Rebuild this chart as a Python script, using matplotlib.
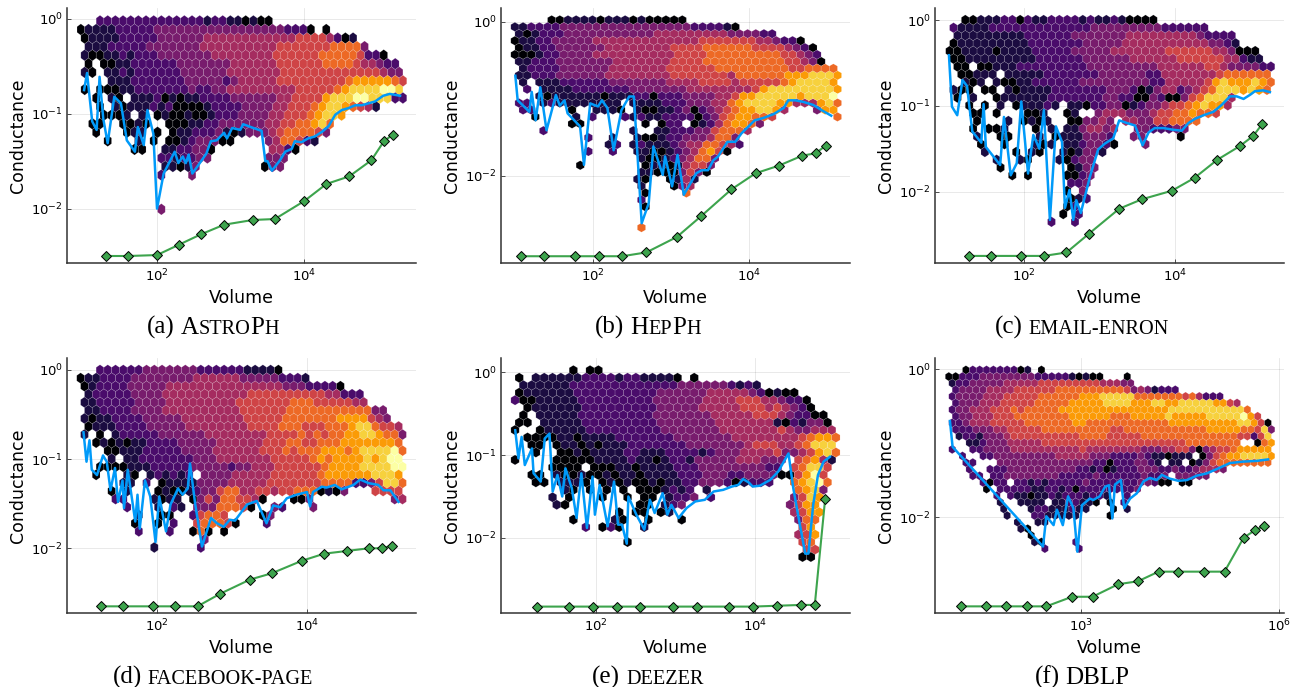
import matplotlib
matplotlib.use("Agg")
import matplotlib.pyplot as plt
import numpy as np

# hex cells, one string per hex row (top row first)
# digit = colour level 0-9, space = empty cell, "|" is only a reading aid
astro_hex = [
    "   |22222222222222122110100",
    "0111122222|33333333333333333|222|0 0",
    " |01111|22222|333333|444444444444|55554|201",
    " |1112|2222|3333333|4444444444|555555|56666|3",
    " |1001121|22233|33333|44444444|555555|66666|5220",
    " 0 0011|222222|33333|33444444|555555|6666|544322",
    " 10 11212|222223|33333|4444444|5555555|55555|5433",
    "    |111222|222233|333|23|44444|55555555|56|77777|65",
    " 0 000|1|1222|22223|2233|4444444|44555|55|67|8888998",
    "  0 10 |1112|0101|122|2233|3333|44555|578|8899888|22",
    "   0 10|111212|0000|12|222|33334|455|567887654|1",
    "   0001 1 |0100100|12|2233|3344|555|67887",
    "  0|0  00|1|0  |000|11|22|33333344|55|66|7|8|6",
    "  0   |011 0 |011|222|3|101|333|4|5|6666|5|3",
    "    0   1 0 |0012333|00|    |3|4|66|5|2|1",
    "       00  |1122330|       |4420",
    "           |2212233|       |333",
    "           |11013|        |033",
    "           2   3",
    "",
    "",
    "",
    "           3",
]
astro_blue_x = [1.01, 1.05, 1.12, 1.18, 1.22, 1.27, 1.33, 1.42, 1.51, 1.59, 1.70, 1.74, 1.82, 1.87, 1.95, 2.00, 2.09, 2.24, 2.29, 2.35, 2.39, 2.43, 2.48, 2.58, 2.67, 2.73, 2.81, 2.91, 2.95, 3.02, 3.13, 3.17, 3.31, 3.42, 3.47, 3.50, 3.56, 3.67, 3.74, 3.83, 3.87, 3.96, 4.05, 4.14, 4.24, 4.33, 4.42, 4.51, 4.60, 4.69, 4.78, 4.87, 4.96, 5.07, 5.16, 5.30]
astro_blue_y = [-0.75, -0.57, -1.08, -1.17, -0.61, -1.05, -1.31, -0.82, -0.89, -1.28, -1.40, -1.14, -1.33, -0.96, -1.21, -2.00, -1.63, -1.40, -1.52, -1.45, -1.52, -1.43, -1.63, -1.52, -1.42, -1.29, -1.28, -1.20, -1.26, -1.15, -1.17, -1.11, -1.15, -1.18, -1.50, -1.50, -1.60, -1.49, -1.40, -1.37, -1.29, -1.30, -1.26, -1.24, -1.19, -1.13, -1.01, -0.96, -0.94, -0.91, -0.91, -0.89, -0.87, -0.81, -0.79, -0.81]
astro_green_x = [1.31, 1.61, 2.00, 2.30, 2.60, 2.91, 3.30, 3.60, 4.00, 4.30, 4.61, 4.91, 5.08, 5.20]
astro_green_y = [-2.50, -2.50, -2.49, -2.38, -2.27, -2.17, -2.12, -2.11, -1.92, -1.74, -1.66, -1.49, -1.29, -1.22]

hepph_hex = [
    "     |00111101110100000",
    "112222|33333333333333|3322|2210",
    " |10122233333333333|4444444443|33322",
    "01122|33333|44444444|44444555|555544|3220",
    " |01122|333333|44444444|5555|666666|5555|4320",
    "00012|23333|44444444|445555|666666|66655|432",
    " |11222|3333333|444444455|55666666|666655|430",
    " |12222|33333344|44444555|555666|666666|556666",
    " |11222|33333344|444444|5555555|466666|67|778887",
    " 1 |111222|222333|333344|44555|54|55555|6788887",
    "  2 |111122|2222233|33333|44444|444|5|7888888887",
    "   1|0|111111|0|111|22|0|22233|334|4|5|77|88888|7|888|9",
    " 22 |12|11111111| |1111|222|333|44|6|7|8888|77|444|7|8|6",
    " 22    0  |1110| |100112|302|3|4|5|6|77|88|7|4|   |3|77",
    "   0    1 2   |212112222|0|2|3|5|6|77|66|5|       |6",
    "       00       |0 022 |012|4|6|77|6|3",
    "    2          |1  |1122233|5|666|4",
    "         2  1  |100122|333|4|66|3",
    "            12 |12111|2|3|44|66|5|4|2",
    "         2  2  |110012346750",
    "                |1001234663",
    "        0       |011014553",
    "                |110003530",
    "               10  |0141",
    "                1   |034",
    "                0    6",
    "                2",
    "                0",
    "",
    "",
    "                6",
]
hepph_blue_x = [1.00, 1.03, 1.18, 1.21, 1.26, 1.32, 1.40, 1.52, 1.57, 1.63, 1.67, 1.83, 1.88, 1.96, 2.06, 2.11, 2.18, 2.26, 2.36, 2.46, 2.52, 2.62, 2.71, 2.77, 2.89, 2.92, 3.01, 3.08, 3.16, 3.32, 3.39, 3.47, 3.54, 3.60, 3.72, 3.82, 3.90, 3.99, 4.07, 4.18, 4.31, 4.44, 4.50, 4.59, 4.69, 4.82, 4.93, 5.05]
hepph_blue_y = [-0.70, -1.02, -1.17, -0.91, -1.28, -0.85, -1.41, -0.95, -1.09, -1.02, -1.19, -1.36, -1.86, -1.06, -1.10, -1.02, -1.12, -1.67, -1.15, -0.97, -0.97, -2.62, -2.36, -1.62, -1.99, -1.75, -2.14, -1.73, -2.25, -1.97, -1.93, -1.93, -1.80, -1.75, -1.56, -1.56, -1.45, -1.36, -1.28, -1.25, -1.20, -1.12, -1.02, -1.02, -1.04, -1.08, -1.15, -1.22]
hepph_green_x = [1.07, 1.37, 1.76, 2.07, 2.37, 2.68, 3.07, 3.38, 3.77, 4.08, 4.38, 4.68, 4.85, 4.98]
hepph_green_y = [-3.05, -3.05, -3.05, -3.05, -3.05, -3.00, -2.80, -2.53, -2.18, -1.97, -1.87, -1.74, -1.71, -1.61]

enron_hex = [
    "   |0011122021122221211210000",
    " |21111|2222222|222222|33333|33332|22222",
    "  |11|111111|12222|22333|33334|444444|44|3|2222",
    " |011111111|122222|22333|33444|44444|444|332|1",
    " |00111101|11122|22233|33344|444445|5555|544|3|000",
    " |001111111|11222|22233|33334|44444|55555|544|211",
    "  00 00|11122|22222|22333|33333|3444|44455|433|3322",
    "  00111 1|111122|22222|33333|322|444|4444|5|666666",
    "   101 1001|12222|22333|33333|322|44444|5|7|8|777|8|7|6",
    " 100 00 101|11122|22222|3332|0|1|3|44|2|3|4|5|6|888|7|8|7|6",
    "  0 1  0111|11122|22222|3322|00|3|2|00|3|5|6|888|4",
    "   0 0 1 0|11121| |11|0|22|33|0|1|2|33|4|55|6|7|8|77|4",
    "    00 0   |001|  |01|  |3|444|333|4|55|66|7|66|5",
    "    0   1 |0101|  |00|33|4|3| |44|33|55|6666",
    "    0 001   |0 1 |11|3|44|3|4|  |33|222|33",
    "    1  00   |1 |0111|333|2|  |33|    |0",
    "     0  0   |101 |11|2|33|2|0|   |3",
    "     1   0 |10|  |101|33|1",
    "       1  |10|   |10233",
    "       0        |0133",
    "         0 0    |0023",
    "                |223",
    "                0 3",
    "                012",
    "                02",
    "               0 2",
    "              2  2",
]
enron_blue_x = [1.00, 1.04, 1.11, 1.18, 1.24, 1.31, 1.43, 1.46, 1.49, 1.68, 1.73, 1.82, 1.90, 1.96, 2.05, 2.12, 2.20, 2.26, 2.34, 2.42, 2.50, 2.54, 2.60, 2.65, 2.69, 2.75, 2.87, 2.98, 3.07, 3.18, 3.26, 3.36, 3.47, 3.57, 3.65, 3.73, 3.85, 3.98, 4.09, 4.18, 4.27, 4.38, 4.51, 4.62, 4.73, 4.82, 4.91, 5.00, 5.06, 5.17, 5.26]
enron_blue_y = [-0.41, -1.01, -1.11, -0.70, -0.77, -1.30, -1.43, -0.98, -1.48, -1.69, -1.13, -1.81, -1.67, -0.95, -1.79, -1.34, -1.50, -1.05, -2.33, -1.24, -1.42, -2.19, -1.98, -2.33, -2.10, -2.25, -1.83, -1.51, -1.44, -1.38, -1.17, -1.20, -1.23, -1.46, -1.31, -1.26, -1.26, -1.28, -1.29, -1.20, -1.15, -1.11, -1.07, -0.99, -0.89, -0.89, -0.92, -0.87, -0.83, -0.82, -0.84]
enron_green_x = [1.26, 1.56, 1.96, 2.26, 2.56, 2.86, 3.26, 3.56, 3.96, 4.26, 4.56, 4.86, 5.04, 5.16]
enron_green_y = [-2.75, -2.75, -2.75, -2.75, -2.71, -2.49, -2.20, -2.09, -1.99, -1.84, -1.63, -1.47, -1.35, -1.21]

facebook_hex = [
    "   |222222|3333333|222222|1111|0",
    "0112|22233|33333344444|433333|2221",
    " |01222|233333|444444444|444444|333|2222|0",
    " |12222|23333|4444444444|455555|55555|44|222",
    " |112222|23333|444444444|5555555|666|55555|44",
    " |11222|23333|444444444|455555|566666|6666|66|33",
    " |10112|222333|33444444|445555|566666|66777|7|5|4|3",
    " |01112|22233|33344444|4445555|666555|6667|88|6554",
    " 1 0 |12222|233333|34444444|45555|656|5667|7887|6|6|3",
    "  0|1|0|1|0|1122|22333|33444|44455|56655|66677|7777|7|6",
    "    |00|11|122|22233|33444|4445|55656|66777|67888|8|9|6",
    "    1 1|1222|2222|33344|44444|5555|56767|77787|899",
    "   |00001|11222|22333|33233|44455|55556|77778|88899",
    "  0   1|0 12|1212| |3|3334|4444|5555|556|7777|7788|87",
    "      11 2 |01111|3|3334|44445|55555|5666|6|223|5|88|6",
    "    0 1   |0|1001|2|33|5|66|44|55|4|55|66|6|010|3|   |5555",
    "     22   |1|01|1| |0|3|5|3|66|55|4|0|   |00|3|          |34",
    "      2   |1 2|1 |333|666|5|0|  |32|   |3",
    "        1  |00|  |25665|    |03",
    "       0  0 2  |566650|   |2",
    "        2   2  |060 0",
    "                3",
    "          1     2",
]
facebook_blue_x = [1.02, 1.06, 1.10, 1.13, 1.20, 1.28, 1.33, 1.38, 1.44, 1.48, 1.54, 1.56, 1.61, 1.71, 1.74, 1.77, 1.84, 1.91, 1.98, 2.03, 2.12, 2.18, 2.28, 2.34, 2.41, 2.44, 2.51, 2.60, 2.72, 2.80, 2.89, 2.97, 3.04, 3.20, 3.33, 3.46, 3.55, 3.64, 3.73, 3.86, 4.00, 4.04, 4.08, 4.20, 4.26, 4.37, 4.46, 4.62, 4.71, 4.82, 4.95, 5.02, 5.11, 5.22]
facebook_blue_y = [-0.70, -1.03, -0.79, -1.12, -1.18, -0.96, -1.03, -1.35, -1.10, -1.48, -1.24, -1.55, -1.12, -1.70, -1.40, -1.78, -1.24, -1.42, -1.93, -1.42, -1.81, -1.51, -1.33, -1.40, -1.33, -1.05, -1.51, -1.98, -1.66, -1.72, -1.76, -1.68, -1.69, -1.51, -1.47, -1.72, -1.52, -1.54, -1.44, -1.40, -1.37, -1.53, -1.37, -1.31, -1.32, -1.29, -1.34, -1.29, -1.23, -1.27, -1.29, -1.35, -1.35, -1.48]
facebook_green_x = [1.25, 1.55, 1.95, 2.24, 2.54, 2.84, 3.24, 3.53, 3.93, 4.23, 4.53, 4.82, 5.00, 5.13]
facebook_green_y = [-2.65, -2.65, -2.65, -2.65, -2.65, -2.51, -2.35, -2.28, -2.14, -2.06, -2.03, -2.00, -2.00, -1.97]

deezer_hex = [
    "        0 00",
    " 0 |111111222212211110| |0",
    "  |11111|12222|22222|22223|33333|2121",
    " |01111|11222|22222|22333|33344|444|32|0100",
    " |20011|11122|22222|22333|33344|44555|443|22|0",
    "  |01111|11222|22222|23333|34444|45554|543|2|0",
    "  0 |1|11112|22222|22233|33333|44444|5554|322|00",
    " 00 |11111|22222|22223|33333|34444|444|1|0|2|1|33|0",
    " 0  0|11111|22222|22223|33333|34444|4445|4|33|444",
    "  000|01101|11122|22222|33333|33444|4444|4|5|6|77|6",
    "   00 |01|1|0|1|0|11122|22222|33333|33455|54|4|5|6|88|8",
    "   0  |00|1|0|11|1122|111|2|22212|33344|445|33|4|5|7|8|6",
    " 0    |0|00|0|0|1|1112|11|0|1|22|1|33|33344|433|3| |5|6|7|4|1",
    "     |0000| |000|11|0|1111|222|333|33333|22| |5|6|88|5",
    "   00 |1|00|1|00|1|0|11|0|1111|222|333|22|3333|00|5|7|9|5",
    "   00 |111|0 |0|1|0|1|00|1|0|11|22|333|2|0|1|222|  |6|7|8|9|6",
    "       |10 0 0 0 |000|1212| |1|          |6783",
    "     1 0   0  0 |00 |1|22|3| |2|         |3587",
    "      10        |00 |123|            |3577",
    "             0 00 01|              |4577",
    "        0    |10|  |0|   |0|             |366",
    "         2 |020|  |1|                  |57",
    "                                   457",
    "              0                    56",
    "                                    55",
    "                                   00",
]
deezer_blue_x = [0.99, 1.03, 1.07, 1.11, 1.20, 1.22, 1.31, 1.36, 1.42, 1.46, 1.52, 1.58, 1.62, 1.70, 1.76, 1.82, 1.89, 1.96, 1.99, 2.05, 2.15, 2.23, 2.28, 2.33, 2.39, 2.41, 2.51, 2.61, 2.68, 2.74, 2.84, 2.90, 2.95, 3.04, 3.14, 3.25, 3.37, 3.48, 3.60, 3.71, 3.79, 3.85, 3.92, 3.97, 4.06, 4.19, 4.29, 4.42, 4.48, 4.54, 4.63, 4.67, 4.73, 4.79, 4.86, 4.94]
deezer_blue_y = [-0.70, -1.04, -0.78, -1.12, -0.92, -1.22, -1.32, -0.80, -0.74, -1.44, -1.24, -1.50, -1.16, -1.40, -1.76, -1.22, -1.88, -1.26, -1.72, -1.36, -1.86, -1.32, -1.84, -1.84, -2.07, -1.50, -1.72, -1.90, -1.54, -1.70, -1.46, -1.72, -1.60, -1.76, -1.64, -1.56, -1.54, -1.44, -1.42, -1.38, -1.36, -1.29, -1.33, -1.38, -1.37, -1.30, -1.20, -0.98, -1.40, -1.72, -2.19, -2.19, -1.60, -1.24, -1.08, -1.02]
deezer_green_x = [1.26, 1.66, 1.96, 2.27, 2.56, 2.97, 3.27, 3.67, 3.97, 4.27, 4.58, 4.75, 4.88]
deezer_green_y = [-2.83, -2.83, -2.83, -2.83, -2.83, -2.83, -2.83, -2.83, -2.83, -2.82, -2.81, -2.81, -1.53]

dblp_hex = [
    "   |02222222|0|1| |0",
    "002|223333|333322|2221010|0|   |0",
    " |12233|33344|44455|55555|55444|33",
    " |23333|44445|55555|66666|66666|5|3|4|3|1|222",
    " |23333|44455|55566|66667|77888|88|666|66665|6|4|222",
    " |23334|44555|55666|66777|77888|8|77788|77888|8877|54",
    " |23344|45556|56666|67777|77777|77777|77888|88888|888|6",
    " |23344|45556|66666|66777|77766|67777|78777|77888|8897|5",
    " |22344|45555|56666|66677|66666|66666|66777|77777|7788|7|5|0",
    " |2|2233|34455|55566|66666|66655|66666|66666|66777|7766|5|8|3",
    "  |1|22|1|33345|55555|55556|66655|55566|66666|66666|6655|2|5|8",
    "   |11|2|33344|44455|55555|55555|55555|55556|66666|66|  |0|6|7",
    " 2  |22|33334|44444|44445|44444|44433|34455|3|0|3|4|5|5|6|77777",
    "  2  |2|23333|33333|44444|333|22223|21101|11| |0|3|5|6|77|8888|7",
    "   22   |3|3333|33333|33332|2|0|222|33|2|1| |11| |0|1|3|5|66666666",
    "   2  |2223|33333|33332|212|0|1|2|22333|22322|3|44|4|3",
    "    22 |22|3333|33332|2222|3222|2223|22|3| |33333",
    "     |2022| |2|2121|22222|32222|222|33|2|00| |00",
    "      0 |2|2222|11|2212|0|22222222|3",
    "       2 |211011|2122|2|1|22|1|  |2",
    "        1  |1111| |1122110| |0| |2",
    "        1   |122111211|   |0| |1",
    "         1   |2211111|    |0",
    "          1  11",
    "           10",
    "            0",
    "             10    2",
    "              2    2",
]
dblp_blue_x = [1.01, 1.05, 2.42, 2.47, 2.58, 2.63, 2.72, 2.80, 2.88, 2.94, 3.01, 3.13, 3.18, 3.28, 3.36, 3.42, 3.47, 3.51, 3.60, 3.65, 3.74, 3.84, 3.94, 4.04, 4.14, 4.22, 4.34, 4.47, 4.60, 4.75, 4.90, 5.08, 5.25, 5.45, 5.66, 5.83]
dblp_blue_y = [-0.70, -1.05, -2.40, -1.99, -2.11, -1.90, -2.11, -1.72, -1.88, -2.47, -1.84, -1.75, -1.77, -1.72, -1.59, -1.57, -2.02, -1.56, -1.50, -1.88, -1.75, -1.68, -1.52, -1.47, -1.50, -1.43, -1.48, -1.51, -1.50, -1.44, -1.41, -1.34, -1.27, -1.25, -1.24, -1.22]
dblp_green_x = [1.17, 1.56, 1.86, 2.17, 2.47, 2.86, 3.17, 3.56, 3.86, 4.17, 4.47, 4.86, 5.17, 5.46, 5.63, 5.77]
dblp_green_y = [-3.21, -3.21, -3.21, -3.21, -3.21, -3.08, -3.08, -2.91, -2.87, -2.74, -2.74, -2.74, -2.74, -2.28, -2.18, -2.12]

BLUE = "#009AF9"
GREEN = "#3DA44D"
SERIF = "Liberation Serif"
BIG = 18
SMALL = 14.6

W, H = 1291, 687

# left, right, top, bottom px / log x limits / log y limits / hex origin + spacing / ticks
panels = [
    dict(box=(67.3, 416, 8, 263.3), xlim=(0.782, 5.516), ylim=(-2.577, 0.116),
         grid=(0.914, 0.1041, -0.021, 0.0903), hexes=astro_hex,
         blue=(astro_blue_x, astro_blue_y), green=(astro_green_x, astro_green_y),
         xt=[2, 4], yt=[0, -1, -2]),
    dict(box=(501.3, 850, 8, 263.3), xlim=(0.82, 5.291), ylim=(-3.142, 0.182),
         grid=(0.942, 0.1047, 0.026, 0.0901), hexes=hepph_hex,
         blue=(hepph_blue_x, hepph_blue_y), green=(hepph_green_x, hepph_green_y),
         xt=[2, 4], yt=[0, -2]),
    dict(box=(935.3, 1284, 8, 263.3), xlim=(0.819, 5.447), ylim=(-2.836, 0.14),
         grid=(0.905, 0.104, 0.0, 0.0905), hexes=enron_hex,
         blue=(enron_blue_x, enron_blue_y), green=(enron_green_x, enron_green_y),
         xt=[2, 4], yt=[0, -1, -2]),
    dict(box=(67.3, 416, 358.3, 613.3), xlim=(0.804, 5.453), ylim=(-2.728, 0.128),
         grid=(0.93, 0.1034, -0.004, 0.0903), hexes=facebook_hex,
         blue=(facebook_blue_x, facebook_blue_y), green=(facebook_green_x, facebook_green_y),
         xt=[2, 4], yt=[0, -1, -2]),
    dict(box=(501.3, 850, 358.3, 613.3), xlim=(0.815, 5.192), ylim=(-2.911, 0.169),
         grid=(0.883, 0.1046, 0.024, 0.0902), hexes=deezer_hex,
         blue=(deezer_blue_x, deezer_blue_y), green=(deezer_green_x, deezer_green_y),
         xt=[2, 4], yt=[0, -1, -2]),
    dict(box=(935.3, 1284, 358.3, 613.3), xlim=(0.788, 6.071), ylim=(-3.304, 0.149),
         grid=(0.94, 0.104, -0.009, 0.0896), hexes=dblp_hex,
         blue=(dblp_blue_x, dblp_blue_y), green=(dblp_green_x, dblp_green_y),
         xt=[3, 6], yt=[0, -2]),
]

# caption runs: text, size (small caps are faked with a smaller size)
captions = [
    (213, 334, [("(a)", BIG), (" ", BIG), ("A", BIG), ("STRO", SMALL), ("P", BIG), ("H", SMALL)]),
    (648, 334, [("(b)", BIG), (" ", BIG), ("H", BIG), ("EP", SMALL), ("P", BIG), ("H", SMALL)]),
    (1082, 334, [("(c)", BIG), (" ", BIG), ("EMAIL-ENRON", SMALL)]),
    (213, 684, [("(d)", BIG), (" ", BIG), ("FACEBOOK-PAGE", SMALL)]),
    (648, 684, [("(e)", BIG), (" ", BIG), ("DEEZER", SMALL)]),
    (1082, 684, [("(f)", BIG), (" ", BIG), ("DBLP", BIG)]),
]


def hex_cells(rows, x0, dx, y0, dy):
    xs, ys, vals = [], [], []
    for r, row in enumerate(rows):
        for i, ch in enumerate(row.replace("|", "")):
            if ch != " ":
                xs.append(10 ** (x0 + (i + 0.5 * (r % 2)) * dx))
                ys.append(10 ** (y0 - r * dy))
                vals.append(int(ch))
    return xs, ys, vals


fig = plt.figure(figsize=(W / 100, H / 100), dpi=100)

for p in panels:
    left, right, top, bottom = p["box"]
    ax = fig.add_axes([left / W, 1 - bottom / H, (right - left) / W, (bottom - top) / H])

    x0, dx, y0, dy = p["grid"]
    xs, ys, vals = hex_cells(p["hexes"], x0, dx, y0, dy)
    nx = 50
    ny = len(p["hexes"]) // 2 + 1
    ax.hexbin(xs, ys, C=vals, xscale="log", yscale="log", gridsize=(nx, ny),
              extent=(x0, x0 + nx * dx, y0 - 2 * ny * dy, y0),
              cmap="inferno", vmin=0, vmax=9, edgecolors=(1, 1, 1, 0.22),
              linewidths=0.4, zorder=2)

    bx, by = p["blue"]
    ax.plot(10 ** np.array(bx), 10 ** np.array(by), color=BLUE, lw=1.8, zorder=3)
    gx, gy = p["green"]
    ax.plot(10 ** np.array(gx), 10 ** np.array(gy), color=GREEN, lw=1.5, marker="D",
            ms=4.6, mec="black", mew=0.7, zorder=4)

    ax.set_xscale("log")
    ax.set_yscale("log")
    ax.set_xlim(10 ** p["xlim"][0], 10 ** p["xlim"][1])
    ax.set_ylim(10 ** p["ylim"][0], 10 ** p["ylim"][1])
    ax.set_xticks([10.0 ** t for t in p["xt"]], [f"$10^{{{t}}}$" for t in p["xt"]])
    ax.set_yticks([10.0 ** t for t in p["yt"]], [f"$10^{{{t}}}$" for t in p["yt"]])
    ax.minorticks_off()
    ax.tick_params(direction="in", length=3, width=0.6, labelsize=9.5, pad=3, color="#333333")
    ax.grid(True, color="black", alpha=0.1, lw=0.6)
    ax.set_axisbelow(True)
    for s in ["top", "right"]:
        ax.spines[s].set_visible(False)
    for s in ["left", "bottom"]:
        ax.spines[s].set_color("#333333")
        ax.spines[s].set_linewidth(1.1)
    ax.set_xlabel("Volume", fontsize=12.5, va="center")
    ax.set_ylabel("Conductance", fontsize=12.5, va="center")
    ax.xaxis.set_label_coords(0.5, -34.7 / (bottom - top))
    ax.yaxis.set_label_coords(-49 / (right - left), 0.5)

renderer = fig.canvas.get_renderer()
for cx, base, runs in captions:
    pieces = [fig.text(0, 1 - base / H, s if s != " " else "n", fontsize=sz, family=SERIF, va="baseline")
              for s, sz in runs]
    widths = [t.get_window_extent(renderer).width for t in pieces]
    # the blank between "(a)" and the name is a fixed gap
    widths = [w if runs[i][0] != " " else 6 for i, w in enumerate(widths)]
    pen = cx - sum(widths) / 2
    for t, w, run in zip(pieces, widths, runs):
        if run[0] == " ":
            t.set_visible(False)
        t.set_x(pen / W)
        pen += w

fig.savefig("out.png", dpi=100)
